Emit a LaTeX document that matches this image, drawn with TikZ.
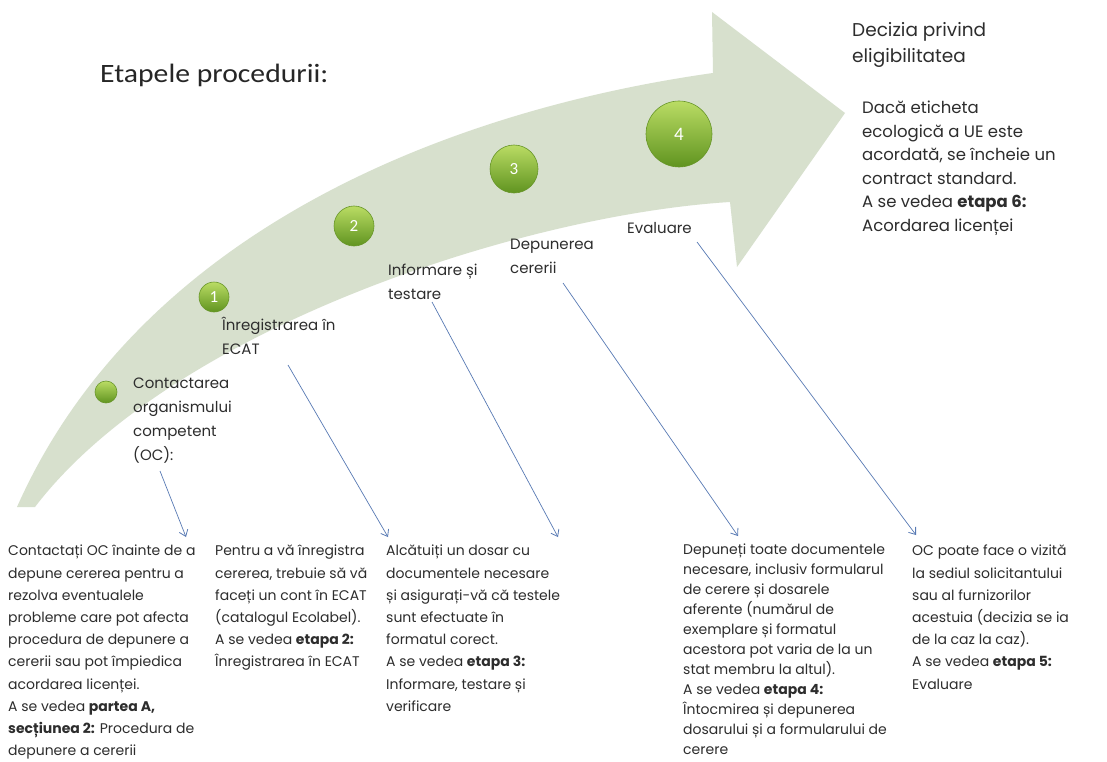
\documentclass[tikz,border=0pt]{standalone}
\usepackage{fontspec}
\setmainfont{Poppins}
\newfontfamily\titlefont{Carlito}[FakeStretch=1.12]
\newfontfamily\numfont{Carlito}
\usetikzlibrary{arrows.meta}
\definecolor{bandcol}{RGB}{215,224,205}
\definecolor{ballTop}{RGB}{186,220,100}
\definecolor{ballBot}{RGB}{96,148,32}
\definecolor{ballEdge}{RGB}{104,150,42}
\definecolor{leadcol}{RGB}{88,122,180}
\definecolor{txtcol}{RGB}{45,45,45}
\tikzset{
  ballsty/.style={circle, draw=ballEdge, line width=0.6pt, top color=ballTop, bottom color=ballBot, inner sep=0pt, text=white, font=\numfont\fontsize{17}{17}\selectfont},
  lead/.style={draw=leadcol, line width=0.7pt, -{Straight Barb[length=6pt,width=9pt,line width=0.8pt]}},
  coltext/.style={anchor=north west, align=left, inner sep=0pt, text=txtcol, font=\fontsize{14}{22.2}\selectfont},
  labtext/.style={anchor=north west, align=left, inner sep=0pt, text=txtcol, font=\fontsize{15}{24}\selectfont},
}
\begin{document}
\begin{tikzpicture}[x=1pt,y=-1pt]
\useasboundingbox (0,0) rectangle (1107,762);
\fill[white] (0,0) rectangle (1107,762);
% curved arrow band
\fill[bandcol] (17,507) .. controls (140,230) and (450,110) .. (713,73)
  -- (712,12) -- (845,113) -- (737,267) -- (730,202)
  .. controls (520,215) and (170,330) .. (35,507) -- cycle;
% title
\node[anchor=west, inner sep=0pt, text=black!85, font=\titlefont\fontsize{26.5}{26.5}\selectfont] (title) at (100,75) {Etapele procedurii:};
% balls
\node[ballsty, minimum size=22pt] (b0) at (106,392) {};
\node[ballsty, minimum size=30pt] (b1) at (214,297) {1};
\node[ballsty, minimum size=40pt] (b2) at (354,226) {2};
\node[ballsty, minimum size=48pt] (b3) at (514,169) {3};
\node[ballsty, minimum size=66pt, font=\numfont\fontsize{19}{19}\selectfont] (b4) at (679,134) {4};
% stage labels
\node[labtext] (l0) at (133,378) {Contactarea\\organismului\\competent\\(OC):};
\node[labtext] (l1) at (222,317) {Înregistrarea în\\ECAT};
\node[labtext] (l2) at (388,264) {Informare și\\testare};
\node[labtext] (l3) at (510,239) {Depunerea\\cererii};
\node[labtext] (l4) at (627,222) {Evaluare};
% right block
\node[anchor=north west, align=left, inner sep=0pt, text=txtcol, font=\fontsize{18.5}{26}\selectfont] (dec) at (852,22) {Decizia privind\\eligibilitatea};
\node[anchor=north west, align=left, inner sep=0pt, text=txtcol, font=\fontsize{16.5}{23.5}\selectfont] (dectxt) at (862,101) {Dacă eticheta\\ecologică a UE este\\acordată, se încheie un\\contract standard.\\A se vedea \textbf{etapa 6:}\\Acordarea licenței};
% bottom columns
\node[coltext] (c1) at (8,545) {Contactați OC înainte de a\\depune cererea pentru a\\rezolva eventualele\\probleme care pot afecta\\procedura de depunere a\\cererii sau pot împiedica\\acordarea licenței.\\A se vedea \textbf{partea A,}\\\textbf{secțiunea 2:} Procedura de\\depunere a cererii};
\node[coltext] (c2) at (215,545) {Pentru a vă înregistra\\cererea, trebuie să vă\\faceți un cont în ECAT\\(catalogul Ecolabel).\\A se vedea \textbf{etapa 2:}\\Înregistrarea în ECAT};
\node[coltext] (c3) at (386,545) {Alcătuiți un dosar cu\\documentele necesare\\și asigurați-vă că testele\\sunt efectuate în\\formatul corect.\\A se vedea \textbf{etapa 3:}\\Informare, testare și\\verificare};
\node[coltext, font=\fontsize{14}{20}\selectfont] (c4) at (683,544) {Depuneți toate documentele\\necesare, inclusiv formularul\\de cerere și dosarele\\aferente (numărul de\\exemplare și formatul\\acestora pot varia de la un\\stat membru la altul).\\A se vedea \textbf{etapa 4:}\\Întocmirea și depunerea\\dosarului și a formularului de\\cerere};
\node[coltext] (c5) at (912,545) {OC poate face o vizită\\la sediul solicitantului\\sau al furnizorilor\\acestuia (decizia se ia\\de la caz la caz).\\A se vedea \textbf{etapa 5:}\\Evaluare};
% leader connectors
\coordinate (s1) at (160,471); \coordinate (e1) at (186,537);
\coordinate (s2) at (288,365); \coordinate (e2) at (388,537);
\coordinate (s3) at (432,302); \coordinate (e3) at (558,537);
\coordinate (s4) at (563,283); \coordinate (e4) at (738,536);
\coordinate (s5) at (697,242); \coordinate (e5) at (916,535);
\draw[lead] (s1) -- (e1);
\draw[lead] (s2) -- (e2);
\draw[lead] (s3) -- (e3);
\draw[lead] (s4) -- (e4);
\draw[lead] (s5) -- (e5);
\end{tikzpicture}
\end{document}
